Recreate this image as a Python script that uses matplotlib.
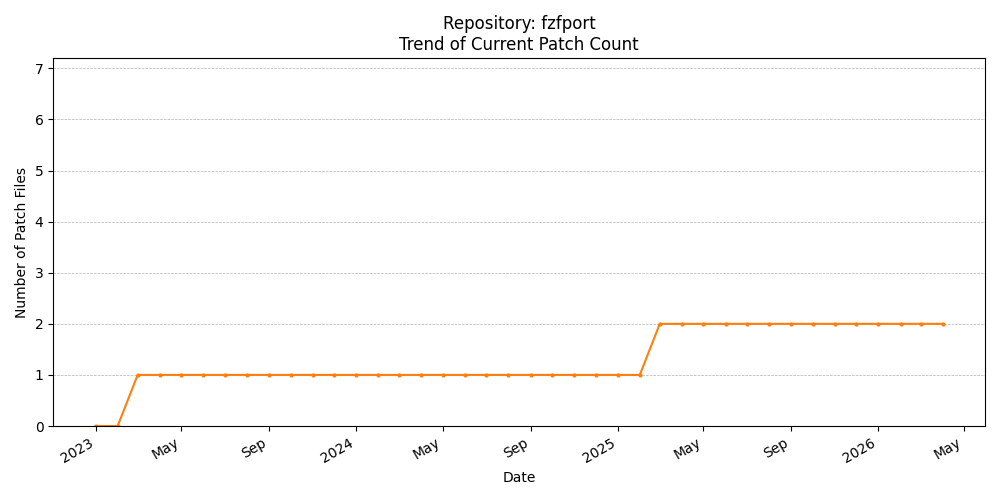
import matplotlib
matplotlib.use("Agg")
import matplotlib.pyplot as plt
import matplotlib.dates as mdates
import pandas as pd

dates = pd.date_range("2023-01-01", "2026-04-01", freq="MS")
counts = [0]*2 + [1]*24 + [2]*14

fig, ax = plt.subplots(figsize=(10, 5), dpi=100)
ax.plot(dates, counts, marker="o", markersize=2, color="#ff7f0e")
ax.set_ylim(0, 7.2)
ax.grid(axis="y", linestyle="--", linewidth=0.5)
loc = mdates.MonthLocator(bymonth=[1, 5, 9])
ax.xaxis.set_major_locator(loc)
ax.xaxis.set_major_formatter(mdates.ConciseDateFormatter(loc))
ax.set_xlabel("Date")
ax.set_ylabel("Number of Patch Files")
ax.set_title("Repository: fzfport\nTrend of Current Patch Count")
fig.autofmt_xdate()
fig.tight_layout()
fig.savefig("out.png")
